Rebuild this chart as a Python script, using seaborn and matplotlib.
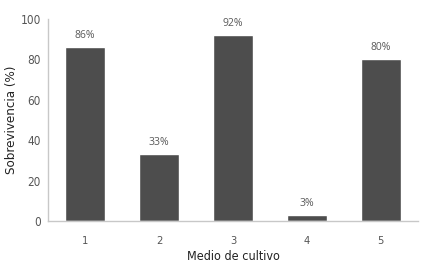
import matplotlib
matplotlib.use("Agg")
import matplotlib.pyplot as plt
import seaborn as sns
import pandas as pd

# datos
medios = ["1", "2", "3", "4", "5"]
sobrevivencia = [86, 33, 92, 3, 80]
etiquetas = ["86%", "33%", "92%", "3%", "80%"]

df = pd.DataFrame({"medio": medios, "sobrevivencia": sobrevivencia})

sns.set_style("white")
plt.rcParams['font.family'] = ['DejaVu Sans']
plt.rcParams['font.stretch'] = 'condensed'

fig = plt.figure(figsize=(4.29, 2.64), dpi=100)
ax = fig.add_axes([0.112, 0.163, 0.862, 0.765])

sns.barplot(data=df, x="medio", y="sobrevivencia", color="#4d4d4d",
            saturation=1, width=0.55, ax=ax)

for i, (v, t) in enumerate(zip(sobrevivencia, etiquetas)):
    ax.text(i, v + 3, t, ha="center", va="bottom", fontsize=7.5,
            color="#595959", family=["Open Sans", "DejaVu Sans"],
            stretch="normal")

ax.set_ylim(0, 100)
ax.set_yticks([0, 20, 40, 60, 80, 100])
ax.set_xlim(-0.5, 4.5)
ax.set_xlabel("Medio de cultivo", fontsize=9, color="#222222", labelpad=3)
ax.set_ylabel("Sobrevivencia (%)", fontsize=9.5, color="#222222", labelpad=2)
ax.tick_params(axis="y", labelsize=8.5, colors="#555555", length=0, pad=5)
ax.tick_params(axis="x", labelsize=8, colors="#555555", length=0, pad=11)

sns.despine(ax=ax)
for s in ["left", "bottom"]:
    ax.spines[s].set_color("#c8c8c8")
    ax.spines[s].set_linewidth(1)

plt.savefig("out.png", dpi=100)
